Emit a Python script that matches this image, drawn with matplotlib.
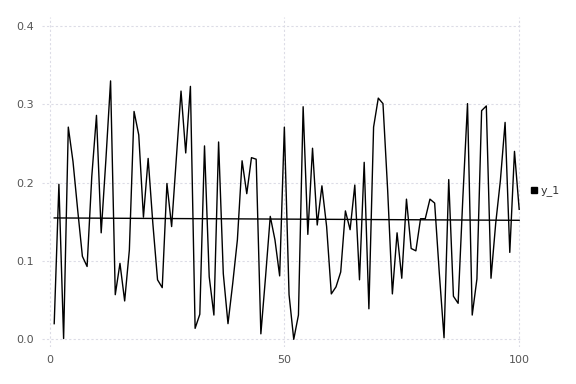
import matplotlib
matplotlib.use("Agg")
import matplotlib.pyplot as plt
import numpy as np

# series values, one per step 1..100
x_vals = list(range(1, 101))
y_1 = [
    0.020, 0.198, 0.001, 0.271, 0.227, 0.165, 0.106, 0.093, 0.208, 0.286,
    0.136, 0.229, 0.330, 0.057, 0.097, 0.049, 0.114, 0.291, 0.261, 0.156,
    0.231, 0.148, 0.076, 0.066, 0.199, 0.144, 0.231, 0.317, 0.238, 0.323,
    0.014, 0.032, 0.247, 0.080, 0.031, 0.252, 0.084, 0.020, 0.071, 0.127,
    0.228, 0.186, 0.232, 0.230, 0.007, 0.080, 0.157, 0.127, 0.081, 0.271,
    0.057, 0.000, 0.031, 0.297, 0.134, 0.244, 0.146, 0.196, 0.144, 0.058,
    0.067, 0.086, 0.164, 0.140, 0.197, 0.076, 0.226, 0.039, 0.271, 0.308,
    0.301, 0.190, 0.058, 0.136, 0.078, 0.179, 0.116, 0.113, 0.154, 0.154,
    0.179, 0.174, 0.084, 0.002, 0.204, 0.055, 0.046, 0.180, 0.301, 0.031,
    0.077, 0.292, 0.298, 0.078, 0.148, 0.203, 0.277, 0.111, 0.240, 0.166,
]
trend_x = [1, 100]
trend_y = [0.155, 0.152]

x_ticks = [0, 50, 100]
y_ticks = [0.0, 0.1, 0.2, 0.3, 0.4]

fig = plt.figure(figsize=(5.76, 3.84), dpi=100)
ax = fig.add_axes([42 / 576, 37 / 384, 480 / 576, 330 / 384])

ax.plot(x_vals, y_1, color="black", linewidth=1.0, label="y_1")
ax.plot(trend_x, trend_y, color="black", linewidth=1.0)

ax.set_xlim(-1.6, 100.6)
ax.set_ylim(-0.0098, 0.4116)
ax.set_xticks(x_ticks)
ax.set_yticks(y_ticks)
ax.set_yticklabels([f"{v:.1f}" for v in y_ticks])
ax.grid(True, color="#dcdce6", linestyle=(0, (2, 2)), linewidth=0.8)
ax.set_axisbelow(True)
for s in ax.spines.values():
    s.set_visible(False)
ax.tick_params(length=0, labelsize=8, colors="#555555", pad=6)

# legend outside on the right, square marker
handle = plt.Line2D([], [], color="black", marker="s", linestyle="none", markersize=5)
fig.legend([handle], ["y_1"], loc="center left", bbox_to_anchor=(518 / 576, 193 / 384),
           frameon=False, fontsize=8, handletextpad=0.1, handlelength=1.0,
           labelcolor="#333333")

fig.savefig("out.png", dpi=100)
